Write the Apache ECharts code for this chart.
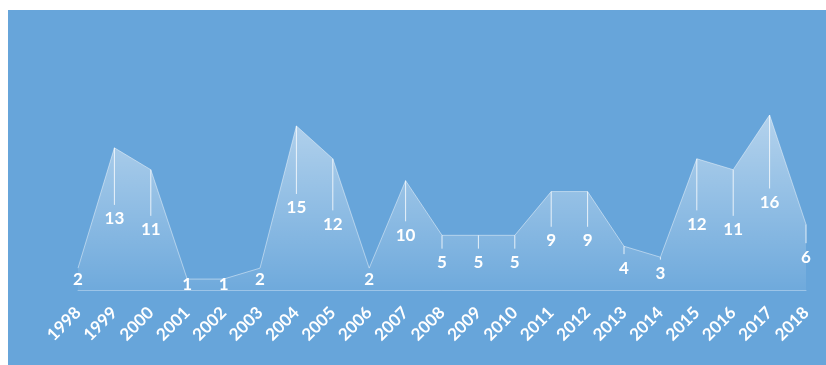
<!DOCTYPE html>
<html>
<head>
<meta charset="utf-8">
<script src="https://cdn.jsdelivr.net/npm/echarts@6/dist/echarts.min.js"></script>
<style>
  html, body { margin: 0; padding: 0; background: #ffffff; }
  #chart { position: absolute; left: 8px; top: 10px; width: 818px; height: 355px; }
</style>
</head>
<body>
<div id="chart"></div>
<script>
// Yearly counts, 1998–2018
const years = ['1998','1999','2000','2001','2002','2003','2004','2005','2006','2007',
               '2008','2009','2010','2011','2012','2013','2014','2015','2016','2017','2018'];
const counts = [2, 13, 11, 1, 1, 2, 15, 12, 2, 10, 5, 5, 5, 9, 9, 4, 3, 12, 11, 16, 6];

const FONT = 'Lato, "Open Sans", sans-serif';
const chart = echarts.init(document.getElementById('chart'));

chart.setOption({
  backgroundColor: '#67a5da',
  animation: false,
  grid: { left: 70, right: 20, top: 105, bottom: 75 },
  xAxis: {
    type: 'category',
    data: years,
    boundaryGap: false,
    axisTick: { show: false },
    axisLine: { lineStyle: { color: 'rgba(255,255,255,0.35)', width: 1 } },
    axisLabel: {
      color: '#ffffff', fontFamily: FONT, fontWeight: 'bold', fontSize: 17,
      rotate: 45, margin: 20, interval: 0
    }
  },
  yAxis: {
    type: 'value', min: 0, max: 16,
    show: false, splitLine: { show: false }
  },
  series: [
    {
      type: 'line',
      data: counts,
      symbol: 'none',
      lineStyle: { color: 'rgba(255,255,255,0.45)', width: 1 },
      areaStyle: {
        color: new echarts.graphic.LinearGradient(0, 0, 0, 1, [
          { offset: 0, color: 'rgba(255,255,255,0.72)' },
          { offset: 1, color: 'rgba(255,255,255,0.08)' }
        ])
      },
      z: 2
    },
    {
      // drop line from each point to its value label at half height
      type: 'custom',
      data: counts.map((v, i) => [i, v]),
      renderItem: function (params, api) {
        const i = api.value(0), v = api.value(1);
        const top = api.coord([i, v]);
        const mid = api.coord([i, v / 2]);
        const children = [];
        const lineEnd = mid[1] - 14;
        if (lineEnd > top[1]) {
          children.push({
            type: 'line',
            shape: { x1: top[0], y1: top[1], x2: top[0], y2: lineEnd },
            style: { stroke: 'rgba(255,255,255,0.8)', lineWidth: 1 }
          });
        }
        children.push({
          type: 'text',
          style: {
            text: String(v), x: mid[0], y: mid[1],
            align: 'center', verticalAlign: 'middle',
            fill: '#ffffff', font: 'bold 17px ' + FONT
          }
        });
        return { type: 'group', children: children };
      },
      z: 3
    }
  ]
});
</script>
</body>
</html>
